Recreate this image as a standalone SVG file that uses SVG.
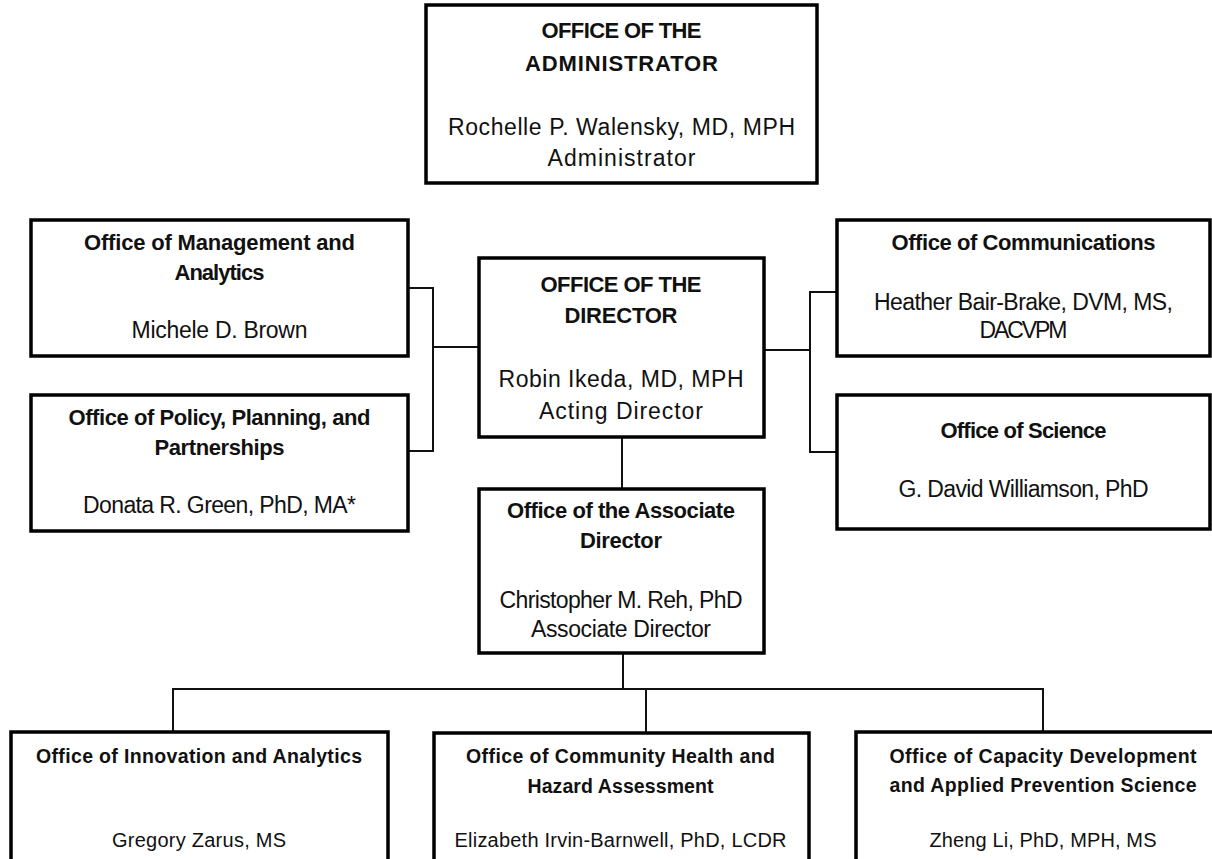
<svg xmlns="http://www.w3.org/2000/svg" width="1212" height="859" viewBox="0 0 1212 859">
<style>
.box{fill:#fff;stroke:#000;stroke-width:3.5}
.conn{fill:none;stroke:#111;stroke-width:2}
text{font-family:"Liberation Sans",Arial,sans-serif;fill:#111;text-anchor:middle}
.t{font-weight:bold;font-size:22px}
.n{font-size:23px}
.tb{font-weight:bold;font-size:19.5px}
.nb{font-size:20px}
</style>
<rect width="1212" height="859" fill="#fff"/>
<g id="connectors">
<path class="conn" d="M408,288 H433 V451 H408 M433,347 H479"/>
<path class="conn" d="M837,292 H810 V452 H837 M764,350 H810"/>
<path class="conn" d="M622,437 V489"/>
<path class="conn" d="M623,653 V689"/>
<path class="conn" d="M173,732 V689 H1043 V732 M646,689 V733"/>
</g>
<g id="administrator">
<rect class="box" x="426" y="5" width="391" height="178"/>
<text class="t" x="621.5" y="38" textLength="160">OFFICE OF THE</text>
<text class="t" x="621.5" y="71" textLength="193">ADMINISTRATOR</text>
<text class="n" x="621.5" y="135" textLength="347">Rochelle P. Walensky, MD, MPH</text>
<text class="n" x="621.5" y="166" textLength="148">Administrator</text>
</g>
<g id="management">
<rect class="box" x="31" y="220" width="377" height="136"/>
<text class="t" x="219.5" y="250" textLength="271">Office of Management and</text>
<text class="t" x="219.5" y="280" textLength="90">Analytics</text>
<text class="n" x="219.5" y="338" textLength="176">Michele D. Brown</text>
</g>
<g id="policy">
<rect class="box" x="31" y="395" width="377" height="136"/>
<text class="t" x="219.5" y="425" textLength="302">Office of Policy, Planning, and</text>
<text class="t" x="219.5" y="455" textLength="130">Partnerships</text>
<text class="n" x="219.5" y="513" textLength="273">Donata R. Green, PhD, MA*</text>
</g>
<g id="director">
<rect class="box" x="479" y="258" width="285" height="179"/>
<text class="t" x="621" y="292" textLength="161">OFFICE OF THE</text>
<text class="t" x="621" y="323" textLength="113">DIRECTOR</text>
<text class="n" x="621" y="387" textLength="245">Robin Ikeda, MD, MPH</text>
<text class="n" x="621" y="419" textLength="164">Acting Director</text>
</g>
<g id="associate">
<rect class="box" x="479" y="489" width="285" height="164"/>
<text class="t" x="621" y="518" textLength="228">Office of the Associate</text>
<text class="t" x="621" y="548" textLength="82">Director</text>
<text class="n" x="621" y="608" textLength="243">Christopher M. Reh, PhD</text>
<text class="n" x="621" y="637" textLength="180">Associate Director</text>
</g>
<g id="communications">
<rect class="box" x="837" y="220" width="373" height="136"/>
<text class="t" x="1023.5" y="250" textLength="264">Office of Communications</text>
<text class="n" x="1023.5" y="310" textLength="299">Heather Bair-Brake, DVM, MS,</text>
<text class="n" x="1023.5" y="338" textLength="88">DACVPM</text>
</g>
<g id="science">
<rect class="box" x="837" y="395" width="373" height="134"/>
<text class="t" x="1023.5" y="438" textLength="166">Office of Science</text>
<text class="n" x="1023.5" y="497" textLength="250">G. David Williamson, PhD</text>
</g>
<g id="innovation">
<rect class="box" x="11" y="732" width="377" height="150"/>
<text class="tb" x="199" y="763" textLength="326">Office of Innovation and Analytics</text>
<text class="nb" x="199" y="847" textLength="174">Gregory Zarus, MS</text>
</g>
<g id="community">
<rect class="box" x="434" y="733" width="375" height="150"/>
<text class="tb" x="620.5" y="763" textLength="309">Office of Community Health and</text>
<text class="tb" x="620.5" y="793" textLength="186">Hazard Assessment</text>
<text class="nb" x="620.5" y="847" textLength="332">Elizabeth Irvin-Barnwell, PhD, LCDR</text>
</g>
<g id="capacity">
<rect class="box" x="856" y="732" width="374" height="150"/>
<text class="tb" x="1043" y="763" textLength="307">Office of Capacity Development</text>
<text class="tb" x="1043" y="792" textLength="307">and Applied Prevention Science</text>
<text class="nb" x="1043" y="847" textLength="227">Zheng Li, PhD, MPH, MS</text>
</g>
</svg>
